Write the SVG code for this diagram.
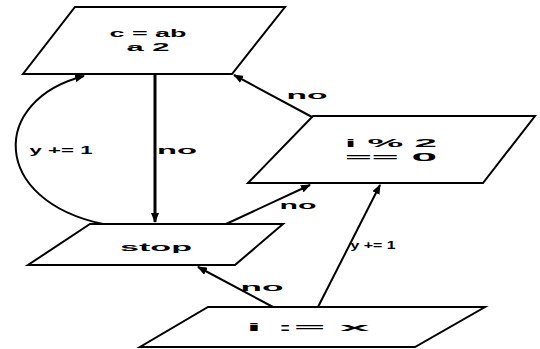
<svg xmlns="http://www.w3.org/2000/svg" width="540" height="349" viewBox="0 0 540 349">
<style>
.node{fill:#fff;stroke:#000;stroke-width:2}
.edge{fill:none;stroke:#000;stroke-width:2}
.thick{stroke-width:3}
.t{font-family:"Liberation Sans",Arial,sans-serif;font-size:11px;font-weight:bold;fill:#000;text-anchor:middle}
</style>
<defs>
<marker id="ah" markerWidth="10" markerHeight="8" refX="9" refY="4" orient="auto" markerUnits="userSpaceOnUse">
<path d="M0,0 L10,4 L0,8 Z" fill="#000"/>
</marker>
</defs>
<rect width="540" height="349" fill="#fff"/>
<g id="n_top">
<polygon class="node" points="75,7 285,7 232,74 23,74"/>
<text class="t" x="148" y="37" textLength="77" lengthAdjust="spacingAndGlyphs">c = ab</text>
<text class="t" x="148" y="51" textLength="43" lengthAdjust="spacingAndGlyphs">a 2</text>
</g>
<g id="n_right">
<polygon class="node" points="313,116 535,116 483,183 248,183"/>
<text class="t" x="391" y="147" textLength="92" lengthAdjust="spacingAndGlyphs">i % 2</text>
<text class="t" x="391" y="161" textLength="92" lengthAdjust="spacingAndGlyphs">== 0</text>
</g>
<g id="n_stop">
<polygon class="node" points="90,224 283,224 235,265 28,265"/>
<text class="t" x="156" y="251" textLength="72" lengthAdjust="spacingAndGlyphs">stop</text>
</g>
<g id="n_bottom">
<polygon class="node" points="208,307 485,307 415,347 140,347"/>
<text class="t" x="308" y="331" textLength="123" lengthAdjust="spacingAndGlyphs">i := x</text>
</g>
<g id="edges">
<path class="edge thick" d="M155,74 L155,222" marker-end="url(#ah)"/>
<path class="edge" d="M103,224 C-10,200 -10,100 84,76" marker-end="url(#ah)"/>
<path class="edge" d="M312,117 L234,75" marker-end="url(#ah)"/>
<path class="edge" d="M226,224 L310,185" marker-end="url(#ah)"/>
<path class="edge" d="M318,307 L380,185" marker-end="url(#ah)"/>
<path class="edge" d="M273,307 L198,267" marker-end="url(#ah)"/>
<text class="t" x="177" y="154" textLength="40" lengthAdjust="spacingAndGlyphs">no</text>
<text class="t" x="61" y="154" textLength="63" lengthAdjust="spacingAndGlyphs">y += 1</text>
<text class="t" x="307" y="99" textLength="41" lengthAdjust="spacingAndGlyphs">no</text>
<text class="t" x="298" y="209" textLength="37" lengthAdjust="spacingAndGlyphs">no</text>
<text class="t" x="373" y="249" textLength="45" lengthAdjust="spacingAndGlyphs">y += 1</text>
<text class="t" x="262" y="291" textLength="43" lengthAdjust="spacingAndGlyphs">no</text>
</g>
</svg>
